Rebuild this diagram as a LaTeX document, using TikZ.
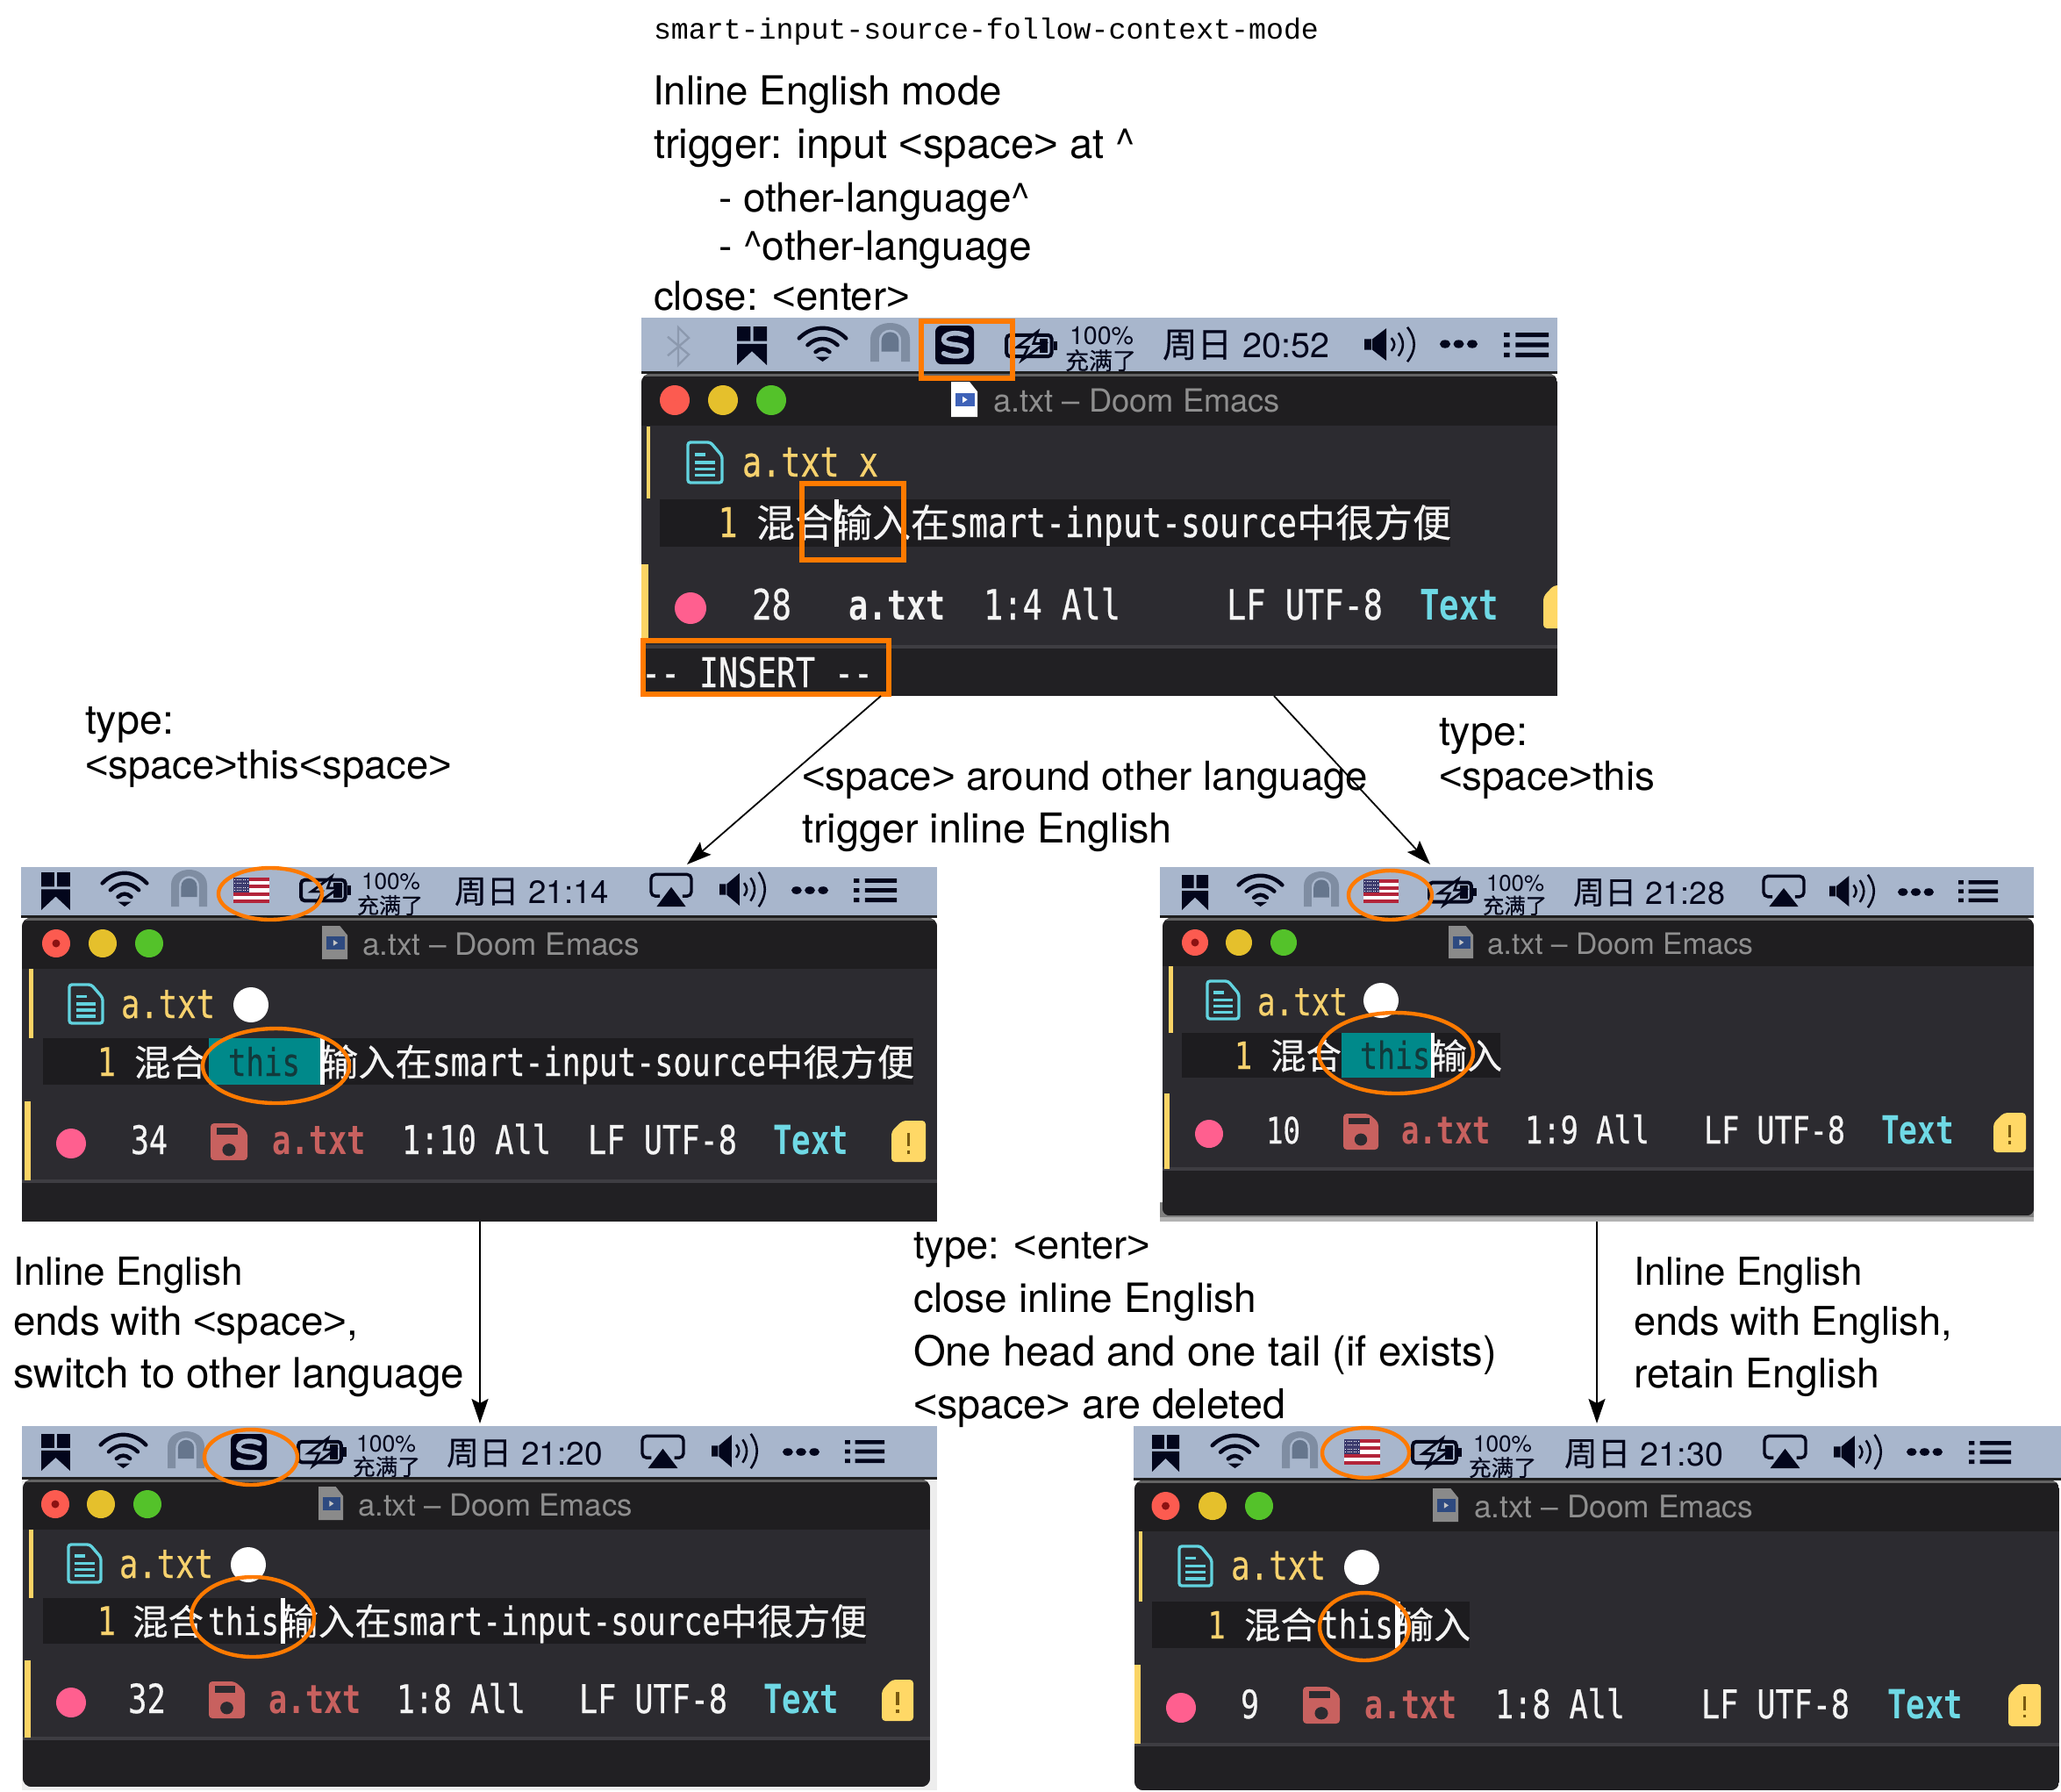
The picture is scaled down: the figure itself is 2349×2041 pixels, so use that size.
\documentclass[tikz,border=0pt]{standalone}
\usepackage{fontspec}
\usepackage{graphicx}
\usetikzlibrary{arrows.meta}
\newfontfamily\hvf{TeX Gyre Heros}
\newfontfamily\lsf{Liberation Sans}
\newfontfamily\lmf{Liberation Mono}
\newfontfamily\emf[FakeStretch=0.78,FakeBold=0.45]{DejaVu Sans Mono}
\newfontfamily\emb[FakeStretch=0.78]{DejaVu Sans Mono Bold}
\newfontfamily\cjkf[FakeBold=0.3]{Noto Sans CJK SC}
\newlength\pxu \setlength\pxu{0.5pt}
\newcommand\fw[2]{\resizebox{#1\pxu}{!}{#2}}
\newcommand\tx[6]{\node[lbl,#2] (#1) at (#3,#4) {\fw{#5}{#6}};}
\newcommand\hvs{\fontsize{20}{24}\selectfont\hvf}
\newcommand\ems{\fontsize{20}{24}\selectfont\emf}
\newcommand\emsb{\fontsize{20}{24}\selectfont\emb}
\newcommand\ann[5]{\node[lbl,text=black] (#1) at (#2,#3+1.5) {\resizebox{\dimexpr #4\pxu+3\pxu\relax}{!}{\hvs #5}};}
\newcommand\ltg{{\lsf <}}
\newcommand\gtg{{\lsf >}}
\newcommand\spc{\ltg space\gtg}
\newcommand\cjE[1]{{\cjkf\fontsize{18.78}{24}\selectfont #1}}
\newcommand\lineA{\cjE{输入在}{\ems smart-input-source}\cjE{中很方便}}
% menu bar texts
\newcommand\menutext[8]{%
  \tx{#1pct}{text=mtxt}{#2}{#3}{#4}{\hvs 100\%}
  \tx{#1chg}{text=mtxt}{#5}{#6}{#7}{\fontsize{20}{24}\selectfont\cjkf 充满了}}
\newcommand\menutime[5]{\tx{#1time}{text=mtxt}{#2}{#3}{#4}{\fontsize{20}{24}\selectfont{\cjkf 周日} {\hvf #5}}}
% geometry helpers
\newcommand\menubar[4]{%
  \fill[menuc] (#1,#3) rectangle (#2,#4);
  \fill[black!88] (#1,#4) rectangle (#2,#4+3);}
\newcommand\emacswin[7]{%
  \begin{scope}
    \clip[rounded corners=5pt] (#1,#3) rectangle (#2,#6+20);
    \clip[rounded corners=#7] (#1,#3-20) rectangle (#2,#6);
    \fill[bodyc] (#1,#3) rectangle (#2,#6);
    \fill[titlec] (#1,#3) rectangle (#2,#4);
    \fill[minic] (#1,#5) rectangle (#2,#6);
    \fill[modeln] (#1,#5-2) rectangle (#2,#5+2);
    \fill[edgec] (#1,#3) rectangle (#2,#3+3);
  \end{scope}}
\newcommand\lights[6]{%
  \fill[tlr] (#1,#4) circle[radius=#5];
  \fill[tly] (#2,#4) circle[radius=#5];
  \fill[tlg] (#3,#4) circle[radius=#5];
  \fill[tlp] (#1,#4) circle[radius=#6];}
\newcommand\icon[5]{\begin{scope}[shift={(#2,#3)},xscale={(#4-(#2))/100},yscale={(#5-(#3))/100}]\csname ic#1\endcsname\end{scope}}
\newcommand\icbook{\fill[mtxt] (0,0) rectangle (45,38) (55,0) rectangle (100,38)
  (0,45) -- (100,45) -- (100,100) -- (50,64) -- (0,100) -- cycle;}
\newcommand\icbt{\draw[btc,line width=1.2pt] (0,25) -- (100,72) -- (50,100) -- (50,0) -- (100,28) -- (0,75);}
\newcommand\icwifi{\draw[mtxt,line width=2.2pt,line cap=round]
   (3,32) .. controls (30,-8) and (70,-8) .. (97,32)
   (20,52) .. controls (38,27) and (62,27) .. (80,52)
   (36,72) .. controls (45,60) and (55,60) .. (64,72);
  \fill[mtxt] (36,86) -- (64,86) -- (50,100) -- cycle;}
\newcommand\ictun{\fill[tunout] (0,100) -- (0,42) .. controls (0,-14) and (100,-14) .. (100,42) -- (100,100) -- (78,100) -- (78,45) .. controls (78,8) and (22,8) .. (22,45) -- (22,100) -- cycle;
  \fill[tunin] (28,74) -- (28,46) .. controls (28,16) and (72,16) .. (72,46) -- (72,74) -- cycle;}
\newcommand\icflag{\fill[white] (0,0) rectangle (100,100);
  \foreach \k in {0,2,4,6}{\fill[flagr] (0,{\k*100/7}) rectangle (100,{(\k+1)*100/7});}
  \fill[flagb] (0,0) rectangle (44,57);
  \foreach \k in {10,24,38,50}{\draw[white,line width=.5pt,dash pattern=on .5pt off .7pt] (3,\k) -- (42,\k);}}
\newcommand\icS{\fill[sblk,rounded corners=3.5pt] (0,0) rectangle (100,100);
  \draw[menuc,line width=2.8pt,line cap=round] (80,26) .. controls (55,14) and (20,20) .. (22,38) .. controls (25,54) and (76,44) .. (80,62) .. controls (82,82) and (45,84) .. (22,72);}
\newcommand\icbat{\draw[mtxt,line width=2pt,rounded corners=2pt] (2,12) rectangle (89,88);
  \fill[mtxt] (93,33) rectangle (100,67);
  \fill[mtxt] (66,24) rectangle (82,76);
  \filldraw[fill=menuc,draw=mtxt,line width=1.4pt] (62,0) -- (22,55) -- (44,55) -- (32,100) -- (76,42) -- (54,42) -- cycle;}
\newcommand\icspk{\fill[mtxt] (0,35) rectangle (14,65) (16,35) -- (44,5) -- (44,95) -- (16,65) -- cycle;
  \draw[mtxt,line width=1.3pt] (54,32) .. controls (62,45) and (62,55) .. (54,68)
   (68,18) .. controls (80,40) and (80,60) .. (68,82)
   (86,2) .. controls (104,35) and (104,65) .. (86,98);}
\newcommand\icdots{\fill[mtxt] (14,50) ellipse[x radius=14,y radius=33] (50,50) ellipse[x radius=14,y radius=33] (86,50) ellipse[x radius=14,y radius=33];}
\newcommand\iclist{\fill[mtxt] (0,0) rectangle (13,18) (26,0) rectangle (100,18) (0,41) rectangle (13,59) (26,41) rectangle (100,59) (0,82) rectangle (13,100) (26,82) rectangle (100,100);}
\newcommand\icair{\draw[mtxt,line width=1.7pt,rounded corners=2.5pt] (22,68) -- (0,68) -- (0,1) -- (100,1) -- (100,68) -- (78,68);
  \fill[mtxt] (50,40) -- (86,100) -- (14,100) -- cycle;}
\newcommand\icdocw{\fill[white] (0,0) -- (70,0) -- (100,28) -- (100,100) -- (0,100) -- cycle;
  \fill[docb] (18,32) rectangle (90,70);\fill[white] (44,42) -- (62,51) -- (44,60) -- cycle;}
\newcommand\icdocg{\fill[docg] (0,0) -- (70,0) -- (100,28) -- (100,100) -- (0,100) -- cycle;
  \fill[docd] (18,32) rectangle (90,70);\fill[docg!50!white] (44,42) -- (62,51) -- (44,60) -- cycle;}
\newcommand\icfile{\draw[filec,line width=1.7pt,rounded corners=1.5pt] (0,0) -- (66,0) -- (100,34) -- (100,100) -- (0,100) -- cycle;
  \draw[filec,line width=1.7pt] (20,30) -- (52,30) (20,50) -- (80,50) (20,66) -- (80,66) (20,82) -- (80,82);}
\newcommand\icsave{\fill[savec,rounded corners=2pt] (0,0) -- (72,0) -- (100,24) -- (100,100) -- (0,100) -- cycle;
  \fill[bodyc] (16,12) rectangle (74,30);
  \fill[bodyc] (50,72) ellipse[x radius=18,y radius=17];}
\newcommand\icwarn{\fill[warnc,rounded corners=2pt] (32,0) -- (100,0) -- (100,100) -- (0,100) -- (0,26) -- cycle;
  \fill[warnd] (45,30) rectangle (55,62);\fill[warnd] (45,72) rectangle (55,80);}
% colours
\definecolor{menuc}{HTML}{A8B6CC}
\definecolor{mtxt}{HTML}{03061C}
\definecolor{titlec}{HTML}{1F1E20}
\definecolor{bodyc}{HTML}{2C2B30}
\definecolor{minic}{HTML}{212023}
\definecolor{modeln}{HTML}{3E3D42}
\definecolor{edgec}{HTML}{636363}
\definecolor{barc}{HTML}{1D1C1F}
\definecolor{tlr}{HTML}{FC5B50}
\definecolor{tly}{HTML}{E5C02C}
\definecolor{tlg}{HTML}{54C22A}
\definecolor{tlp}{HTML}{8C1212}
\definecolor{ytxt}{HTML}{F7D26E}
\definecolor{yelbar}{HTML}{FBD465}
\definecolor{titlet}{HTML}{8F8F8F}
\definecolor{wtxt}{HTML}{F4F4F4}
\definecolor{pinkc}{HTML}{FF5F8F}
\definecolor{cyant}{HTML}{6FD9E5}
\definecolor{filec}{HTML}{62D3DF}
\definecolor{savec}{HTML}{C8615F}
\definecolor{warnc}{HTML}{FFD866}
\definecolor{warnd}{HTML}{7A5A10}
\definecolor{tealc}{HTML}{00898A}
\definecolor{teald}{HTML}{123A3C}
\definecolor{orgc}{HTML}{FF7A00}
\definecolor{btc}{HTML}{8C99AE}
\definecolor{tunout}{HTML}{7F8DA2}
\definecolor{tunin}{HTML}{66768D}
\definecolor{flagr}{HTML}{B3243A}
\definecolor{flagb}{HTML}{3C3B6E}
\definecolor{sblk}{HTML}{02031A}
\definecolor{docb}{HTML}{3E62B8}
\definecolor{docd}{HTML}{2E4A80}
\definecolor{docg}{HTML}{8A8A8A}
\tikzset{
  lbl/.style={anchor=base west,inner sep=0pt,outer sep=0pt},
  orgbox/.style={draw=orgc,line width=2.8pt},
  orgell/.style={draw=orgc,line width=2.2pt},
  conn/.style={draw=black,line width=.9pt,-{Stealth[length=14pt,width=9.5pt,inset=2.5pt]}}
}
\begin{document}
\begin{tikzpicture}[x=0.5pt,y=-0.5pt]
\useasboundingbox (0,0) rectangle (2349,2041);
\fill[white] (0,0) rectangle (2349,2041);

% ---------- headline ----------
\tx{hmode}{text=black}{745}{44.5}{758}{\fontsize{20}{24}\selectfont\lmf smart-input-source-follow-context-mode}
\ann{h1}{744}{118}{395}{Inline English mode}
\ann{h2}{745}{179}{546}{trigger: input \spc{} at \textasciicircum}
\ann{h3}{819}{240}{352}{- other-language\textasciicircum}
\ann{h4}{819}{295}{354}{- \textasciicircum other-language}
\ann{h5}{745}{352}{289}{close: \ltg enter\gtg}

% ---------- screen 0 ----------
\menubar{731}{1775}{362}{423}
\icon{bt}{761}{373}{785}{416}
\icon{book}{840}{372}{874}{416}
\icon{wifi}{909}{373}{966}{412}
\icon{tun}{992}{368}{1037}{412}
\icon{S}{1066}{371}{1110}{415}
\icon{bat}{1146}{378}{1205}{410}
\menutext{s0}{1219}{392}{73}{1214}{421}{81}{}
\menutime{s0}{1325}{407}{190}{20:52}
\icon{spk}{1555}{372}{1612}{413}
\icon{dots}{1641}{385}{1684}{399}
\icon{list}{1714}{379}{1765}{407}
\emacswin{731}{1775}{426}{485}{737}{793}{0.01pt}
\lights{769}{824}{879}{456}{17}{0}
\icon{docw}{1084}{435}{1114}{475}
\tx{s0title}{text=titlet}{1132}{469}{327}{\hvs a.txt – Doom Emacs}
\fill[yelbar] (737,486) rectangle (741,568);
\icon{file}{784}{504}{823}{550}
\tx{s0name}{text=ytxt}{846}{543}{155}{\ems a.txt x}
\fill[barc] (752,569) rectangle (1653,623);
\tx{s0ln}{text=ytxt}{818.5}{612}{22}{\ems 1}
\tx{s0line}{text=wtxt}{862}{612}{792}{\cjE{混合}\lineA}
\fill[white] (951,569) rectangle (956,623);
\fill[yelbar] (731,643) rectangle (739,728);
\fill[pinkc] (787,693) circle[radius=18];
\tx{s0cnt}{text=wtxt}{857}{706}{45}{\ems 28}
\tx{s0fn}{text=wtxt}{967}{706}{111}{\emsb a.txt}
\tx{s0pos}{text=wtxt}{1121}{706}{156}{\ems 1:4 All}
\tx{s0enc}{text=wtxt}{1398}{706}{178}{\ems LF UTF-8}
\tx{s0mode}{text=cyant}{1618}{706}{90}{\emsb Text}
\begin{scope}
\clip (1750,660) rectangle (1775,725);
\icon{warn}{1759}{667}{1796}{716}
\end{scope}
\tx{s0ins}{text=wtxt}{731}{783}{264}{\ems {-}{-} INSERT {-}{-}}
\draw[orgbox] (1050,366) rectangle (1154,431);
\draw[orgbox] (914,551) rectangle (1030,638);
\draw[orgbox] (733,730) rectangle (1013,791);

% ---------- screen 1 ----------
\menubar{24}{1068}{988}{1043}
\icon{book}{47}{994}{80}{1037}
\icon{wifi}{115}{994}{169}{1033}
\icon{tun}{195}{991}{236}{1033}
\icon{flag}{266}{1000}{307}{1029}
\icon{bat}{342}{999}{400}{1030}
\menutext{s1}{412}{1013}{67}{407}{1041}{75}{}
\menutime{s1}{518}{1029}{176}{21:14}
\icon{air}{742}{996}{788}{1033}
\icon{spk}{820}{993}{872}{1034}
\icon{dots}{902}{1008}{944}{1021}
\icon{list}{973}{1001}{1022}{1028}
\emacswin{25}{1068}{1046}{1104}{1346}{1392}{0.01pt}
\lights{64}{117}{170}{1075}{16}{4.5}
\icon{docg}{367}{1055}{396}{1093}
\tx{s1title}{text=titlet}{413}{1088}{316}{\hvs a.txt – Doom Emacs}
\fill[yelbar] (33,1104) rectangle (37.5,1183);
\icon{file}{79}{1122}{117}{1166}
\tx{s1name}{text=ytxt}{138}{1160}{107}{\ems a.txt}
\fill[white] (286,1145) circle[radius=20];
\fill[barc] (49,1183) rectangle (1041,1236);
\tx{s1ln}{text=ytxt}{111}{1226}{21}{\ems 1}
\tx{s1cjk}{text=wtxt}{153}{1226}{83}{\cjE{混合}}
\fill[tealc] (238,1183) rectangle (365,1236);
\tx{s1this}{text=teald}{260}{1226}{82}{\ems this}
\tx{s1line}{text=wtxt}{366}{1226}{676}{\lineA}
\fill[white] (365,1183) rectangle (370,1236);
\fill[yelbar] (28,1255) rectangle (35,1345);
\fill[pinkc] (81,1303) circle[radius=17];
\tx{s1cnt}{text=wtxt}{149}{1315}{42}{\ems 34}
\icon{save}{240}{1280}{282}{1322}
\tx{s1fn}{text=savec}{310}{1315}{107}{\emsb a.txt}
\tx{s1pos}{text=wtxt}{458}{1315}{170}{\ems 1:10 All}
\tx{s1enc}{text=wtxt}{670}{1315}{170}{\ems LF UTF-8}
\tx{s1mode}{text=cyant}{881}{1315}{86}{\emsb Text}
\icon{warn}{1016}{1277}{1055}{1324}
\draw[orgell] (308,1018.5) ellipse[x radius=59,y radius=29.5];
\draw[orgell] (314.5,1214.5) ellipse[x radius=83.5,y radius=42.5];

% ---------- screen 2 ----------
\menubar{1322}{2318}{988}{1043}
\icon{book}{1347}{997}{1377}{1037}
\icon{wifi}{1410}{997}{1463}{1033}
\icon{tun}{1486}{993}{1526}{1033}
\icon{flag}{1554}{1002}{1594}{1029}
\icon{bat}{1628}{1002}{1683}{1031}
\menutext{s2}{1694}{1015}{66}{1690}{1041}{73}{}
\menutime{s2}{1793}{1030}{173}{21:28}
\icon{air}{2010}{998}{2056}{1033}
\icon{spk}{2085}{996}{2136}{1035}
\icon{dots}{2163}{1010}{2204}{1023}
\icon{list}{2232}{1003}{2277}{1028}
\fill[black!50] (1322,1370) rectangle (2318,1392);
\fill[black!30] (1322,1387) rectangle (2318,1392);
\emacswin{1325}{2318}{1046}{1101}{1332}{1385}{4pt}
\lights{1362}{1412}{1463}{1074}{15}{4.5}
\icon{docg}{1651}{1055}{1679}{1092}
\tx{s2title}{text=titlet}{1695}{1087}{303}{\hvs a.txt – Doom Emacs}
\fill[yelbar] (1332,1101) rectangle (1337,1177);
\icon{file}{1376}{1118}{1412}{1161}
\tx{s2name}{text=ytxt}{1433}{1157}{103}{\ems a.txt}
\fill[white] (1574,1140) circle[radius=20];
\fill[barc] (1347,1177) rectangle (1710,1228);
\tx{s2ln}{text=ytxt}{1407}{1218}{20}{\ems 1}
\tx{s2cjk}{text=wtxt}{1448}{1218}{81}{\cjE{混合}}
\fill[tealc] (1529,1177) rectangle (1631,1228);
\tx{s2this}{text=teald}{1550}{1218}{80}{\ems this}
\tx{s2line}{text=wtxt}{1632}{1218}{80}{\cjE{输入}}
\fill[white] (1631,1177) rectangle (1635,1228);
\fill[yelbar] (1327,1246) rectangle (1333,1332);
\fill[pinkc] (1378,1292) circle[radius=16];
\tx{s2cnt}{text=wtxt}{1443}{1303}{39}{\ems 10}
\icon{save}{1531}{1269}{1571}{1310}
\tx{s2fn}{text=savec}{1597}{1303}{102}{\emsb a.txt}
\tx{s2pos}{text=wtxt}{1738}{1303}{142}{\ems 1:9 All}
\tx{s2enc}{text=wtxt}{1942}{1303}{161}{\ems LF UTF-8}
\tx{s2mode}{text=cyant}{2144}{1303}{83}{\emsb Text}
\icon{warn}{2272}{1268}{2309}{1313}
\draw[orgell] (1584.5,1020) ellipse[x radius=47.5,y radius=28];
\draw[orgell] (1591,1200) ellipse[x radius=88,y radius=46];

% ---------- screen 3 ----------
\menubar{25}{1068}{1625}{1683}
\icon{book}{47}{1634}{80}{1676}
\icon{wifi}{113}{1634}{168}{1673}
\icon{tun}{191}{1631}{233}{1673}
\icon{S}{263}{1634}{304}{1675}
\icon{bat}{339}{1639}{395}{1670}
\menutext{s3}{406}{1654}{68}{402}{1681}{77}{}
\menutime{s3}{509}{1669}{178}{21:20}
\icon{air}{732}{1636}{779}{1673}
\icon{spk}{811}{1633}{863}{1674}
\icon{dots}{892}{1648}{934}{1661}
\icon{list}{963}{1641}{1008}{1667}
\fill[black!7] (25,1686) rectangle (1068,2040);
\emacswin{26}{1060}{1686}{1743}{1981}{2036}{5pt}
\lights{63}{115}{168}{1714}{16}{4.5}
\icon{docg}{363}{1694}{391}{1732}
\tx{s3title}{text=titlet}{408}{1727}{313}{\hvs a.txt – Doom Emacs}
\fill[yelbar] (33,1743) rectangle (37.5,1821);
\icon{file}{78}{1760}{115}{1803}
\tx{s3name}{text=ytxt}{136}{1798}{107}{\ems a.txt}
\fill[white] (283,1783) circle[radius=20];
\fill[barc] (49,1821) rectangle (987,1873);
\tx{s3ln}{text=ytxt}{111}{1863}{21}{\ems 1}
\tx{s3cjk}{text=wtxt}{151}{1863}{81}{\cjE{混合}}
\tx{s3this}{text=wtxt}{237}{1863}{81}{\ems this}
\tx{s3line}{text=wtxt}{321}{1863}{667}{\lineA}
\fill[white] (320,1821) rectangle (325,1873);
\fill[yelbar] (28,1892) rectangle (35,1980);
\fill[pinkc] (81,1940) circle[radius=17];
\tx{s3cnt}{text=wtxt}{146}{1952}{43}{\ems 32}
\icon{save}{238}{1916}{279}{1958}
\tx{s3fn}{text=savec}{306}{1952}{106}{\emsb a.txt}
\tx{s3pos}{text=wtxt}{452}{1952}{147}{\ems 1:8 All}
\tx{s3enc}{text=wtxt}{660}{1952}{169}{\ems LF UTF-8}
\tx{s3mode}{text=cyant}{870}{1952}{86}{\emsb Text}
\icon{warn}{1005}{1914}{1041}{1961}
\draw[orgell] (286,1660.5) ellipse[x radius=53,y radius=31.5];
\draw[orgell] (288,1842.5) ellipse[x radius=70,y radius=45.5];

% ---------- screen 4 ----------
\menubar{1292}{2349}{1625}{1684}
\icon{book}{1313}{1635}{1344}{1677}
\icon{wifi}{1380}{1635}{1435}{1673}
\icon{tun}{1461}{1631}{1502}{1673}
\icon{flag}{1532}{1640}{1573}{1669}
\icon{bat}{1609}{1639}{1666}{1671}
\menutext{s4}{1679}{1654}{67}{1674}{1682}{77}{}
\menutime{s4}{1783}{1670}{181}{21:30}
\icon{air}{2011}{1636}{2058}{1673}
\icon{spk}{2090}{1634}{2144}{1675}
\icon{dots}{2173}{1648}{2214}{1661}
\icon{list}{2244}{1642}{2292}{1668}
\emacswin{1293}{2347}{1687}{1745}{1988}{2040}{5pt}
\lights{1328.5}{1382}{1435}{1716}{16}{4.5}
\icon{docg}{1633}{1696}{1662}{1734}
\tx{s4title}{text=titlet}{1680}{1729}{318}{\hvs a.txt – Doom Emacs}
\fill[yelbar] (1297.5,1745) rectangle (1302,1825);
\icon{file}{1344}{1762}{1381}{1807}
\tx{s4name}{text=ytxt}{1403}{1800}{108}{\ems a.txt}
\fill[white] (1552,1786) circle[radius=20];
\fill[barc] (1313,1825) rectangle (1675,1878);
\tx{s4ln}{text=ytxt}{1376.5}{1867}{20}{\ems 1}
\tx{s4cjk}{text=wtxt}{1418}{1867}{83}{\cjE{混合}}
\tx{s4this}{text=wtxt}{1505}{1867}{83}{\ems this}
\tx{s4line}{text=wtxt}{1592}{1867}{84}{\cjE{输入}}
\fill[white] (1590,1825) rectangle (1596,1878);
\fill[yelbar] (1293,1897) rectangle (1300,1987);
\fill[pinkc] (1346,1946) circle[radius=17];
\tx{s4cnt}{text=wtxt}{1414}{1958}{21}{\ems 9}
\icon{save}{1485}{1922}{1527}{1964}
\tx{s4fn}{text=savec}{1555}{1958}{106}{\emsb a.txt}
\tx{s4pos}{text=wtxt}{1704}{1958}{148}{\ems 1:8 All}
\tx{s4enc}{text=wtxt}{1939}{1958}{169}{\ems LF UTF-8}
\tx{s4mode}{text=cyant}{2151}{1958}{86}{\emsb Text}
\icon{warn}{2289}{1919}{2326}{1967}
\draw[orgell] (1556.5,1655.5) ellipse[x radius=49.5,y radius=28.5];
\draw[orgell] (1555,1853.5) ellipse[x radius=51,y radius=38.5];

% ---------- annotations ----------
\ann{a1}{97}{835}{98}{type:}
\ann{a2}{97}{886}{415}{\spc{}this\spc}
\ann{a3}{914}{899}{642}{\spc{} around other language}
\ann{a4}{914}{959}{419}{trigger inline English}
\ann{a5}{1640}{848}{98}{type:}
\ann{a6}{1640}{899}{243}{\spc{}this}
\ann{b1}{15}{1463}{259}{Inline English}
\ann{b2}{15}{1520}{390}{ends with \spc,}
\ann{b3}{15}{1580}{511}{switch to other language}
\ann{b4}{1041}{1433}{267}{type: \ltg enter\gtg}
\ann{b5}{1041}{1494}{388}{close inline English}
\ann{b6}{1041}{1555}{662}{One head and one tail (if exists)}
\ann{b7}{1041}{1615}{421}{\spc{} are deleted}
\ann{b8}{1862}{1463}{258}{Inline English}
\ann{b9}{1862}{1520}{360}{ends with English,}
\ann{b10}{1862}{1580}{277}{retain English}

% ---------- connectors ----------
\coordinate (s0l) at (1004,793);
\coordinate (s0r) at (1452,793);
\coordinate (s1in) at (783,985);
\coordinate (s2in) at (1630,985);
\coordinate (s1out) at (547,1392);
\coordinate (s3in) at (547,1622);
\coordinate (s2out) at (1820,1392);
\coordinate (s4in) at (1820,1622);
\draw[conn] (s0l) -- (s1in);
\draw[conn] (s0r) -- (s2in);
\draw[conn] (s1out) -- (s3in);
\draw[conn] (s2out) -- (s4in);
\end{tikzpicture}
\end{document}
